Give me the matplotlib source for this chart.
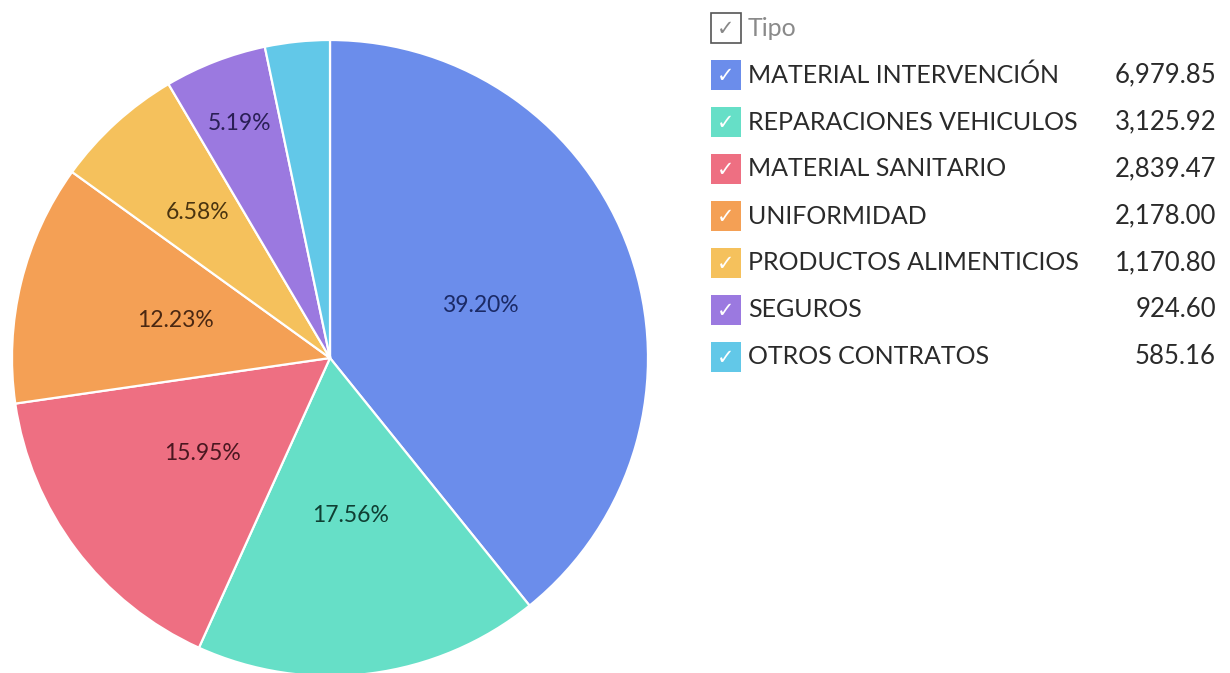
#! /usr/bin/env python

# Pie chart of expenses by "Tipo" with a checkbox style legend

import numpy as np
import matplotlib
matplotlib.use("Agg")
import matplotlib.pyplot as plt
from matplotlib.patches import Rectangle

# data
categorias = ["MATERIAL INTERVENCIÓN", "REPARACIONES VEHICULOS", "MATERIAL SANITARIO",
              "UNIFORMIDAD", "PRODUCTOS ALIMENTICIOS", "SEGUROS", "OTROS CONTRATOS"]
importes = [6979.85, 3125.92, 2839.47, 2178.00, 1170.80, 924.60, 585.16]
colores = ["#6b8deb", "#66dfc7", "#ee6f82", "#f4a055", "#f5c15c", "#9b79e0", "#62c8e8"]
colores_texto = ["#1b2a66", "#0f3f33", "#4a1720", "#4a2812", "#4a3410", "#2a1f55", "#10394a"]
titulo_leyenda = "Tipo"

# radial position of each percent label (fraction of radius)
dist_etiqueta = [0.5, 0.5, 0.5, 0.5, 0.62, 0.79, 0.8]

W, H = 1230, 673
fig = plt.figure(figsize=(W / 100, H / 100), dpi=100)
fig.patch.set_facecolor("white")

# pie: centre (330, 358) px, radius 318 px
cx, cy, r = 330, 358, 318
ax = fig.add_axes([(cx - r) / W, (H - cy - r) / H, 2 * r / W, 2 * r / H])

def etiqueta(p):
    return "%.2f%%" % p if p >= 4 else ""

wedges, texts, autotexts = ax.pie(importes, colors=colores, startangle=90, counterclock=False,
                                  autopct=etiqueta, pctdistance=0.5, radius=1,
                                  wedgeprops=dict(edgecolor="white", linewidth=1.6),
                                  textprops=dict(family="Lato", fontsize=16.5))
for w, t, c, d in zip(wedges, autotexts, colores_texto, dist_etiqueta):
    ang = np.deg2rad((w.theta1 + w.theta2) / 2)
    t.set_position((d * np.cos(ang), d * np.sin(ang)))
    t.set_color(c)
ax.set_xlim(-1, 1)
ax.set_ylim(-1, 1)
ax.set_aspect("equal")
ax.axis("off")

# legend drawn by hand in pixel coordinates
def px(x, y):
    return x / W, 1 - y / H

box = 30
x_box = 711
x_txt = 748
x_val = 1216
y0 = 28
paso = 47

# header row
bx, by = px(x_box, y0 + box / 2)
fig.patches.append(Rectangle((bx, by), box / W, box / H, transform=fig.transFigure,
                             facecolor="white", edgecolor="#555555", linewidth=1.2))
fig.text(*px(x_box + box / 2, y0 + 1), "✓", color="#888888", fontsize=15,
         family=["DejaVu Sans"], ha="center", va="center")
fig.text(*px(x_txt, y0), titulo_leyenda, color="#8a8a8a", fontsize=18,
         family=["Lato", "DejaVu Sans"], ha="left", va="center")

for i, (nombre, valor, col) in enumerate(zip(categorias, importes, colores)):
    yc = y0 + paso * (i + 1)
    bx, by = px(x_box, yc + box / 2)
    fig.patches.append(Rectangle((bx, by), box / W, box / H, transform=fig.transFigure,
                                 facecolor=col, edgecolor="none"))
    fig.text(*px(x_box + box / 2, yc + 1), "✓", color="white", fontsize=15,
             family=["DejaVu Sans"], ha="center", va="center")
    fig.text(*px(x_txt, yc), nombre, color="#2a2a2a", fontsize=18,
             family=["Lato", "DejaVu Sans"], ha="left", va="center")
    fig.text(*px(x_val, yc), "{:,.2f}".format(valor), color="#2a2a2a", fontsize=18.5,
             family=["Lato", "DejaVu Sans"], ha="right", va="center")

fig.savefig("out.png", dpi=100)
